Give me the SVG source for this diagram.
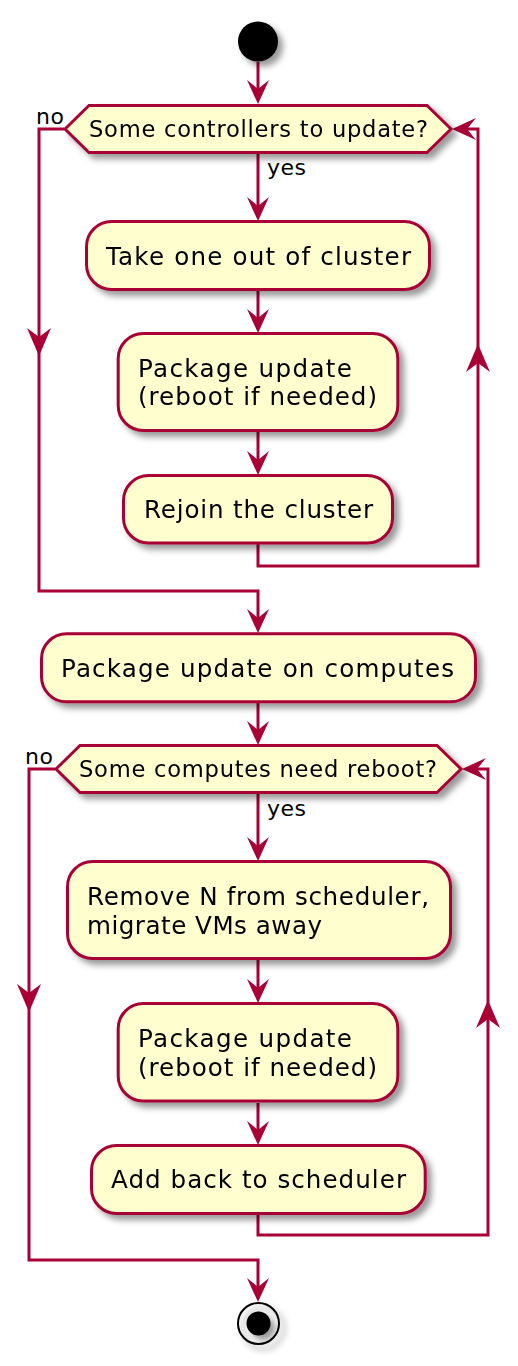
<svg xmlns="http://www.w3.org/2000/svg" xmlns:xlink="http://www.w3.org/1999/xlink" width="518" height="1366" viewBox="0 0 518 1366">
<style>
.box{fill:#FEFECE;stroke:#A80036;stroke-width:3}
.ln{fill:none;stroke:#A80036;stroke-width:3}
.ah{fill:#A80036;stroke:none}
.t{font-family:"DejaVu Sans","Liberation Sans",sans-serif;fill:#000}
.a{font-size:24.6px}
.d{font-size:22.6px}
.l{font-size:22px}
</style>
<defs>
<filter id="sh" x="-20%" y="-20%" width="150%" height="160%">
<feGaussianBlur in="SourceAlpha" stdDeviation="3" result="b"/>
<feColorMatrix in="b" type="matrix" values="0 0 0 0 0  0 0 0 0 0  0 0 0 0 0  0 0 0 0.4 0" result="c"/>
<feOffset in="c" dx="5" dy="5" result="o"/>
<feMerge><feMergeNode in="o"/><feMergeNode in="SourceGraphic"/></feMerge>
</filter>
<path id="ah" d="M0,0 L-11,-24 L0,-15 L11,-24 Z"/>
<path id="ahm" d="M0,0 L-12,-28 L0,-19 L12,-28 Z"/>
</defs>

<g id="connectors">
<path class="ln" d="M258,62 V100"/>
<path class="ln" d="M258,154 V216"/>
<path class="ln" d="M258,291 V328"/>
<path class="ln" d="M258,432 V470"/>
<path class="ln" d="M258,544 V566 H478 V129 H456"/>
<path class="ln" d="M64,129 H39 V591 H258 V628"/>
<path class="ln" d="M258,703 V740"/>
<path class="ln" d="M258,794 V856"/>
<path class="ln" d="M258,960 V998"/>
<path class="ln" d="M258,1103 V1140"/>
<path class="ln" d="M258,1215 V1235 H488 V769 H466"/>
<path class="ln" d="M55,769 H29 V1260 H258 V1298"/>
<use xlink:href="#ah" class="ah" transform="translate(258,104)"/>
<use xlink:href="#ah" class="ah" transform="translate(258,221)"/>
<use xlink:href="#ah" class="ah" transform="translate(258,333)"/>
<use xlink:href="#ah" class="ah" transform="translate(258,475)"/>
<use xlink:href="#ah" class="ah" transform="translate(452,129) rotate(90)"/>
<use xlink:href="#ahm" class="ah" transform="translate(478,344) rotate(180)"/>
<use xlink:href="#ahm" class="ah" transform="translate(39,356)"/>
<use xlink:href="#ah" class="ah" transform="translate(258,633)"/>
<use xlink:href="#ah" class="ah" transform="translate(258,745)"/>
<use xlink:href="#ah" class="ah" transform="translate(258,861)"/>
<use xlink:href="#ah" class="ah" transform="translate(258,1003)"/>
<use xlink:href="#ah" class="ah" transform="translate(258,1145)"/>
<use xlink:href="#ah" class="ah" transform="translate(462,769) rotate(90)"/>
<use xlink:href="#ahm" class="ah" transform="translate(488,1000) rotate(180)"/>
<use xlink:href="#ahm" class="ah" transform="translate(29,1012)"/>
<use xlink:href="#ah" class="ah" transform="translate(258,1302)"/>
<text class="t l" x="36" y="124" textLength="28" lengthAdjust="spacing">no</text>
<text class="t l" x="267" y="175" textLength="39" lengthAdjust="spacing">yes</text>
<text class="t l" x="25" y="764" textLength="28" lengthAdjust="spacing">no</text>
<text class="t l" x="267" y="816" textLength="39" lengthAdjust="spacing">yes</text>
</g>

<g id="start" filter="url(#sh)">
<circle cx="258" cy="41.5" r="20" fill="#000"/>
</g>

<g id="decision1" filter="url(#sh)">
<polygon class="box" points="65,129 89,105.5 427,105.5 451,129 427,152.5 89,152.5"/>
<text class="t d" x="89" y="137" textLength="339" lengthAdjust="spacing">Some controllers to update?</text>
</g>

<g id="take-out" filter="url(#sh)">
<rect class="box" x="86.5" y="221.5" width="343" height="68" rx="25" ry="25"/>
<text class="t a" x="106" y="265" textLength="305" lengthAdjust="spacing">Take one out of cluster</text>
</g>

<g id="pkg-update-1" filter="url(#sh)">
<rect class="box" x="118.2" y="333.5" width="279.6" height="97" rx="25" ry="25"/>
<text class="t a" x="138" y="376.7" textLength="214" lengthAdjust="spacing">Package update</text>
<text class="t a" x="138" y="405" textLength="239" lengthAdjust="spacing">(reboot if needed)</text>
</g>

<g id="rejoin" filter="url(#sh)">
<rect class="box" x="123.5" y="475.5" width="269" height="67.5" rx="25" ry="25"/>
<text class="t a" x="144" y="518" textLength="229" lengthAdjust="spacing">Rejoin the cluster</text>
</g>

<g id="pkg-computes" filter="url(#sh)">
<rect class="box" x="41.5" y="633.8" width="434" height="68" rx="25" ry="25"/>
<text class="t a" x="61" y="676.7" textLength="393" lengthAdjust="spacing">Package update on computes</text>
</g>

<g id="decision2" filter="url(#sh)">
<polygon class="box" points="56,769 80,745.5 437,745.5 461,769 437,792.5 80,792.5"/>
<text class="t d" x="79" y="777" textLength="358" lengthAdjust="spacing">Some computes need reboot?</text>
</g>

<g id="remove-n" filter="url(#sh)">
<rect class="box" x="67.5" y="861.5" width="383" height="97" rx="25" ry="25"/>
<text class="t a" x="87" y="905" textLength="342" lengthAdjust="spacing">Remove N from scheduler,</text>
<text class="t a" x="87" y="934.3" textLength="235" lengthAdjust="spacing">migrate VMs away</text>
</g>

<g id="pkg-update-2" filter="url(#sh)">
<rect class="box" x="118.2" y="1003.5" width="279.6" height="97.5" rx="25" ry="25"/>
<text class="t a" x="138" y="1047.3" textLength="214" lengthAdjust="spacing">Package update</text>
<text class="t a" x="138" y="1076" textLength="239" lengthAdjust="spacing">(reboot if needed)</text>
</g>

<g id="add-back" filter="url(#sh)">
<rect class="box" x="91.5" y="1145.5" width="333.7" height="68" rx="25" ry="25"/>
<text class="t a" x="111" y="1188.3" textLength="295" lengthAdjust="spacing">Add back to scheduler</text>
</g>

<g id="end" filter="url(#sh)">
<circle cx="258.5" cy="1323.5" r="20.5" fill="none" stroke="#000" stroke-width="2"/>
<circle cx="258.5" cy="1323.5" r="12" fill="#000"/>
</g>
</svg>
